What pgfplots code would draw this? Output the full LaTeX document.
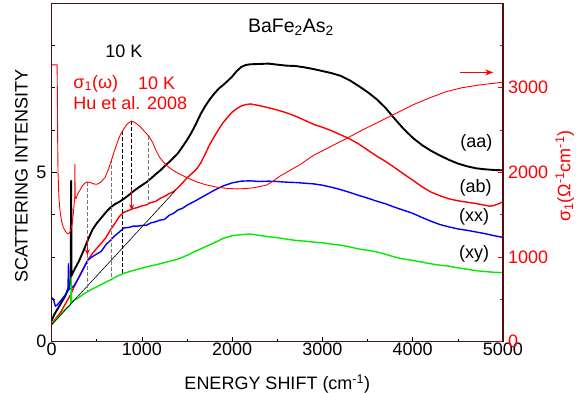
\documentclass[border=0pt]{standalone}
\usepackage{fontspec}
\setmainfont{Liberation Sans}
\usepackage{pgfplots}
\pgfplotsset{compat=1.18}
\usetikzlibrary{arrows.meta}

\definecolor{spine}{RGB}{60,25,25}
\definecolor{lspine}{RGB}{95,5,5}
\definecolor{rspine}{RGB}{110,0,0}
\definecolor{xgreen}{RGB}{0,235,0}
\definecolor{dgray}{RGB}{120,120,120}

\begin{document}
\begin{tikzpicture}[font=\fontsize{18}{21}\selectfont]
\useasboundingbox (-51.7pt,-51.3pt) rectangle (524.3pt,341.7pt);

% ---------- Raman spectra (left axis) ----------
\begin{axis}[
  width=451.3pt, height=338.7pt, scale only axis,
  xmin=0, xmax=5000, ymin=0, ymax=10,
  axis line style={spine, line width=0.8pt},
  xtick={0,1000,...,5000}, minor xtick={500,1500,2500,3500,4500},
  ytick={0,5}, minor ytick={1.25,2.5,3.75,6.25,7.5,8.75},
  xtick pos=left, ytick pos=left,
  tick align=inside,
  major tick length=5pt, minor tick length=3pt,
  tick style={black, line width=0.7pt},
  /pgf/number format/assume math mode=true,
  /pgf/number format/1000 sep={},
  tick label style={font=\fontsize{18}{20}\selectfont},
  xticklabel style={inner sep=1.5pt},
  yticklabel style={inner sep=5pt},
  xlabel={ENERGY SHIFT (cm\textsuperscript{-1})},
  ylabel={SCATTERING INTENSITY},
  every axis x label/.style={at={(rel axis cs:0.5,-0.141)}, anchor=base},
  every axis y label/.style={at={(rel axis cs:-0.067,0.489)}, rotate=90, anchor=center},
  every axis plot/.append style={line join=round},
]
% (aa)
\addplot[black, line width=1.9pt] coordinates {
(0,0.62) (25,0.78) (50,0.90) (100,1.12) (150,1.35) (200,1.68) (210,1.85) (216,4.75) (220,1.95)
(250,2.12) (300,2.37) (350,2.67) (400,3.00) (450,3.30) (500,3.50) (550,3.66) (600,3.82)
(650,3.96) (700,4.06) (750,4.13) (800,4.22) (850,4.32) (900,4.43) (950,4.53) (1000,4.62)
(1050,4.71) (1100,4.82) (1150,4.94) (1200,5.05) (1250,5.18) (1300,5.30) (1350,5.43) (1400,5.57)
(1450,5.76) (1500,5.96) (1550,6.18) (1600,6.44) (1650,6.72) (1700,6.95) (1750,7.15) (1800,7.32)
(1850,7.47) (1900,7.58) (1950,7.70) (2000,7.83) (2050,7.99) (2100,8.11) (2150,8.17) (2200,8.19)
(2300,8.20) (2400,8.21) (2500,8.18) (2600,8.15) (2700,8.14) (2800,8.10) (2900,8.05) (3000,7.99)
(3100,7.93) (3200,7.85) (3300,7.72) (3400,7.55) (3500,7.37) (3600,7.16) (3700,6.90) (3800,6.58)
(3900,6.28) (4000,6.02) (4100,5.81) (4200,5.64) (4300,5.50) (4400,5.37) (4500,5.26) (4600,5.18)
(4700,5.12) (4800,5.09) (4900,5.07) (5000,5.06)
};
% (ab)
\addplot[red, line width=1.4pt] coordinates {
(0,0.52) (50,0.70) (100,0.87) (150,1.11) (200,1.34) (250,1.63) (300,1.90) (350,2.16)
(400,2.41) (450,2.60) (500,2.76) (550,2.91) (600,3.07) (650,3.30) (700,3.49) (750,3.70)
(800,3.82) (850,3.87) (900,3.93) (950,3.96) (1000,4.01) (1050,4.04) (1100,4.11) (1150,4.14)
(1200,4.23) (1250,4.29) (1300,4.37) (1350,4.43) (1400,4.55) (1450,4.69) (1500,4.84) (1550,4.96)
(1600,5.08) (1650,5.27) (1700,5.54) (1750,5.82) (1800,6.05) (1850,6.27) (1900,6.47) (1950,6.63)
(2000,6.78) (2050,6.88) (2100,6.96) (2150,7.00) (2200,7.02) (2300,6.97) (2400,6.91) (2500,6.84)
(2600,6.76) (2700,6.66) (2800,6.54) (2900,6.42) (3000,6.33) (3100,6.23) (3200,6.11) (3300,5.99)
(3400,5.84) (3500,5.66) (3600,5.48) (3700,5.32) (3800,5.14) (3900,4.95) (4000,4.77) (4100,4.58)
(4200,4.42) (4300,4.31) (4400,4.22) (4500,4.16) (4600,4.12) (4700,4.08) (4800,4.03) (4850,4.00)
(4900,4.02) (4950,4.07) (5000,4.13)
};
% (xx)
\addplot[blue, line width=1.4pt] coordinates {
(0,1.30) (20,1.25) (40,1.05) (60,1.08) (100,1.21) (150,1.38) (180,1.50) (186,2.30) (192,1.54)
(220,1.59) (250,1.66) (300,1.89) (350,2.14) (400,2.41) (450,2.51) (500,2.59) (550,2.67)
(600,2.86) (650,2.99) (700,3.13) (750,3.24) (800,3.36) (850,3.37) (900,3.41) (950,3.41)
(1000,3.43) (1050,3.44) (1100,3.51) (1150,3.54) (1200,3.59) (1250,3.61) (1300,3.73) (1350,3.79)
(1400,3.89) (1450,3.94) (1500,4.03) (1600,4.17) (1700,4.32) (1800,4.47) (1900,4.60) (2000,4.69)
(2100,4.74) (2200,4.75) (2300,4.73) (2400,4.74) (2500,4.73) (2600,4.71) (2700,4.70) (2800,4.68)
(2900,4.66) (3000,4.62) (3100,4.56) (3200,4.49) (3300,4.41) (3400,4.32) (3500,4.24) (3600,4.15)
(3700,4.07) (3800,3.97) (3900,3.88) (4000,3.79) (4100,3.67) (4200,3.56) (4300,3.46) (4400,3.39)
(4500,3.33) (4600,3.29) (4700,3.24) (4800,3.19) (4900,3.13) (5000,3.08)
};
% (xy)
\addplot[xgreen, line width=1.4pt] coordinates {
(0,0.50) (50,0.66) (100,0.80) (150,0.96) (200,1.07) (212,1.12) (215,1.88) (219,1.17)
(250,1.23) (300,1.30) (350,1.40) (400,1.48) (450,1.56) (500,1.62) (550,1.69) (600,1.76)
(650,1.82) (700,1.90) (750,1.96) (800,2.02) (850,2.06) (900,2.10) (1000,2.17) (1100,2.24)
(1200,2.30) (1300,2.37) (1400,2.44) (1500,2.55) (1600,2.68) (1700,2.80) (1800,2.92) (1900,3.05)
(2000,3.13) (2100,3.16) (2200,3.18) (2300,3.14) (2400,3.10) (2500,3.07) (2600,3.03) (2700,2.99)
(2800,2.97) (2900,2.94) (3000,2.92) (3100,2.88) (3200,2.85) (3300,2.80) (3400,2.74) (3500,2.70)
(3600,2.65) (3700,2.58) (3800,2.50) (3900,2.44) (4000,2.40) (4100,2.35) (4200,2.30) (4300,2.26)
(4400,2.23) (4500,2.18) (4600,2.14) (4700,2.10) (4800,2.07) (4900,2.05) (5000,2.04)
};
% linear guide
\addplot[black, line width=0.6pt] coordinates {(0,0.50) (1370,4.46)};

% markers linking sigma_1 features to the spectra
\addplot[dgray, line width=1pt, dash pattern=on 3.5pt off 2.5pt] coordinates {(395,4.71) (395,1.46)};
\addplot[dgray, line width=1pt, dash pattern=on 3.5pt off 2.5pt] coordinates {(664,5.38) (664,1.83)};
\addplot[black, line width=1pt, dash pattern=on 3.5pt off 2.5pt] coordinates {(786,6.22) (786,1.98)};
\addplot[black, line width=1pt, dash pattern=on 3.5pt off 2.5pt] coordinates {(886,6.51) (886,4.40)};
\addplot[dgray, line width=1pt, dash pattern=on 3.5pt off 2.5pt] coordinates {(1078,6.07) (1078,4.08)};
\addplot[red, line width=1pt, -{Stealth[length=6pt,width=5pt]}] coordinates {(395,3.10) (395,2.55)};
\addplot[red, line width=1pt, -{Stealth[length=6pt,width=5pt]}] coordinates {(886,4.52) (886,3.88)};
\addplot[red, line width=1pt, -{Stealth[length=8pt,width=6pt]}] coordinates {(4526,7.95) (4892,7.95)};

\draw[lspine, line width=1.4pt] (rel axis cs:0,0) -- (rel axis cs:0,1);

\node[font=\fontsize{19.5}{22}\selectfont] at (axis cs:2650,9.29) {BaFe\textsubscript{2}As\textsubscript{2}};
\node at (axis cs:800,8.57) {10 K};
\node[red, anchor=west, inner sep=0pt] at (axis cs:239,7.62) {σ\textsubscript{1}(ω)};
\node[red] at (axis cs:1163,7.62) {10 K};
\node[red, anchor=west, inner sep=0pt] at (axis cs:239,7.06) {Hu et al. 2008};
\node at (axis cs:4704,5.86) {(aa)};
\node at (axis cs:4696,4.54) {(ab)};
\node at (axis cs:4680,3.70) {(xx)};
\node at (axis cs:4680,2.59) {(xy)};
\end{axis}

% ---------- optical conductivity (right axis) ----------
\begin{axis}[
  width=451.3pt, height=338.7pt, scale only axis,
  xmin=0, xmax=5000, ymin=0, ymax=4000,
  axis x line=none, axis y line*=right,
  axis line style={rspine, line width=1pt},
  ytick={0,1000,2000,3000}, minor ytick={500,1500,2500,3500},
  tick align=inside,
  major tick length=5pt, minor tick length=3pt,
  tick style={red, line width=0.7pt},
  /pgf/number format/assume math mode=true,
  /pgf/number format/1000 sep={},
  yticklabel style={red, font=\fontsize{18}{20}\selectfont, inner sep=5pt},
  ylabel={σ\textsubscript{1}(Ω\textsuperscript{-1}cm\textsuperscript{-1})},
  every axis y label/.style={at={(rel axis cs:1.137,0.489)}, rotate=90, anchor=center, red},
]
\addplot[red, line width=0.9pt, line join=round] coordinates {
(0,3270) (60,3270) (63,2900) (66,2400) (70,2000) (80,1700) (92,1546) (110,1420)
(129,1350) (160,1290) (184,1272) (205,1300) (225,1380) (240,1520) (250,1640) (255,1700)
(257,2094) (260,1720) (270,1690) (290,1750) (313,1790) (340,1840) (370,1875) (395,1885)
(430,1878) (470,1862) (498,1859) (540,1880) (590,1937) (630,2040) (664,2150) (690,2240)
(720,2330) (750,2420) (782,2485) (830,2563) (860,2590) (886,2605) (920,2590) (978,2543)
(1030,2480) (1078,2426) (1120,2350) (1150,2270) (1200,2170) (1273,2080) (1350,2020) (1400,1990)
(1500,1937) (1600,1890) (1700,1855) (1827,1825) (1950,1810) (2050,1805) (2150,1808) (2250,1820)
(2381,1850) (2450,1895) (2528,1955) (2650,2030) (2750,2090) (2900,2200) (3100,2310) (3267,2400)
(3450,2505) (3636,2602) (3820,2700) (4004,2798) (4200,2885) (4374,2954) (4550,3000) (4745,3033)
(4900,3052) (5000,3065)
};
\end{axis}
\end{tikzpicture}
\end{document}
